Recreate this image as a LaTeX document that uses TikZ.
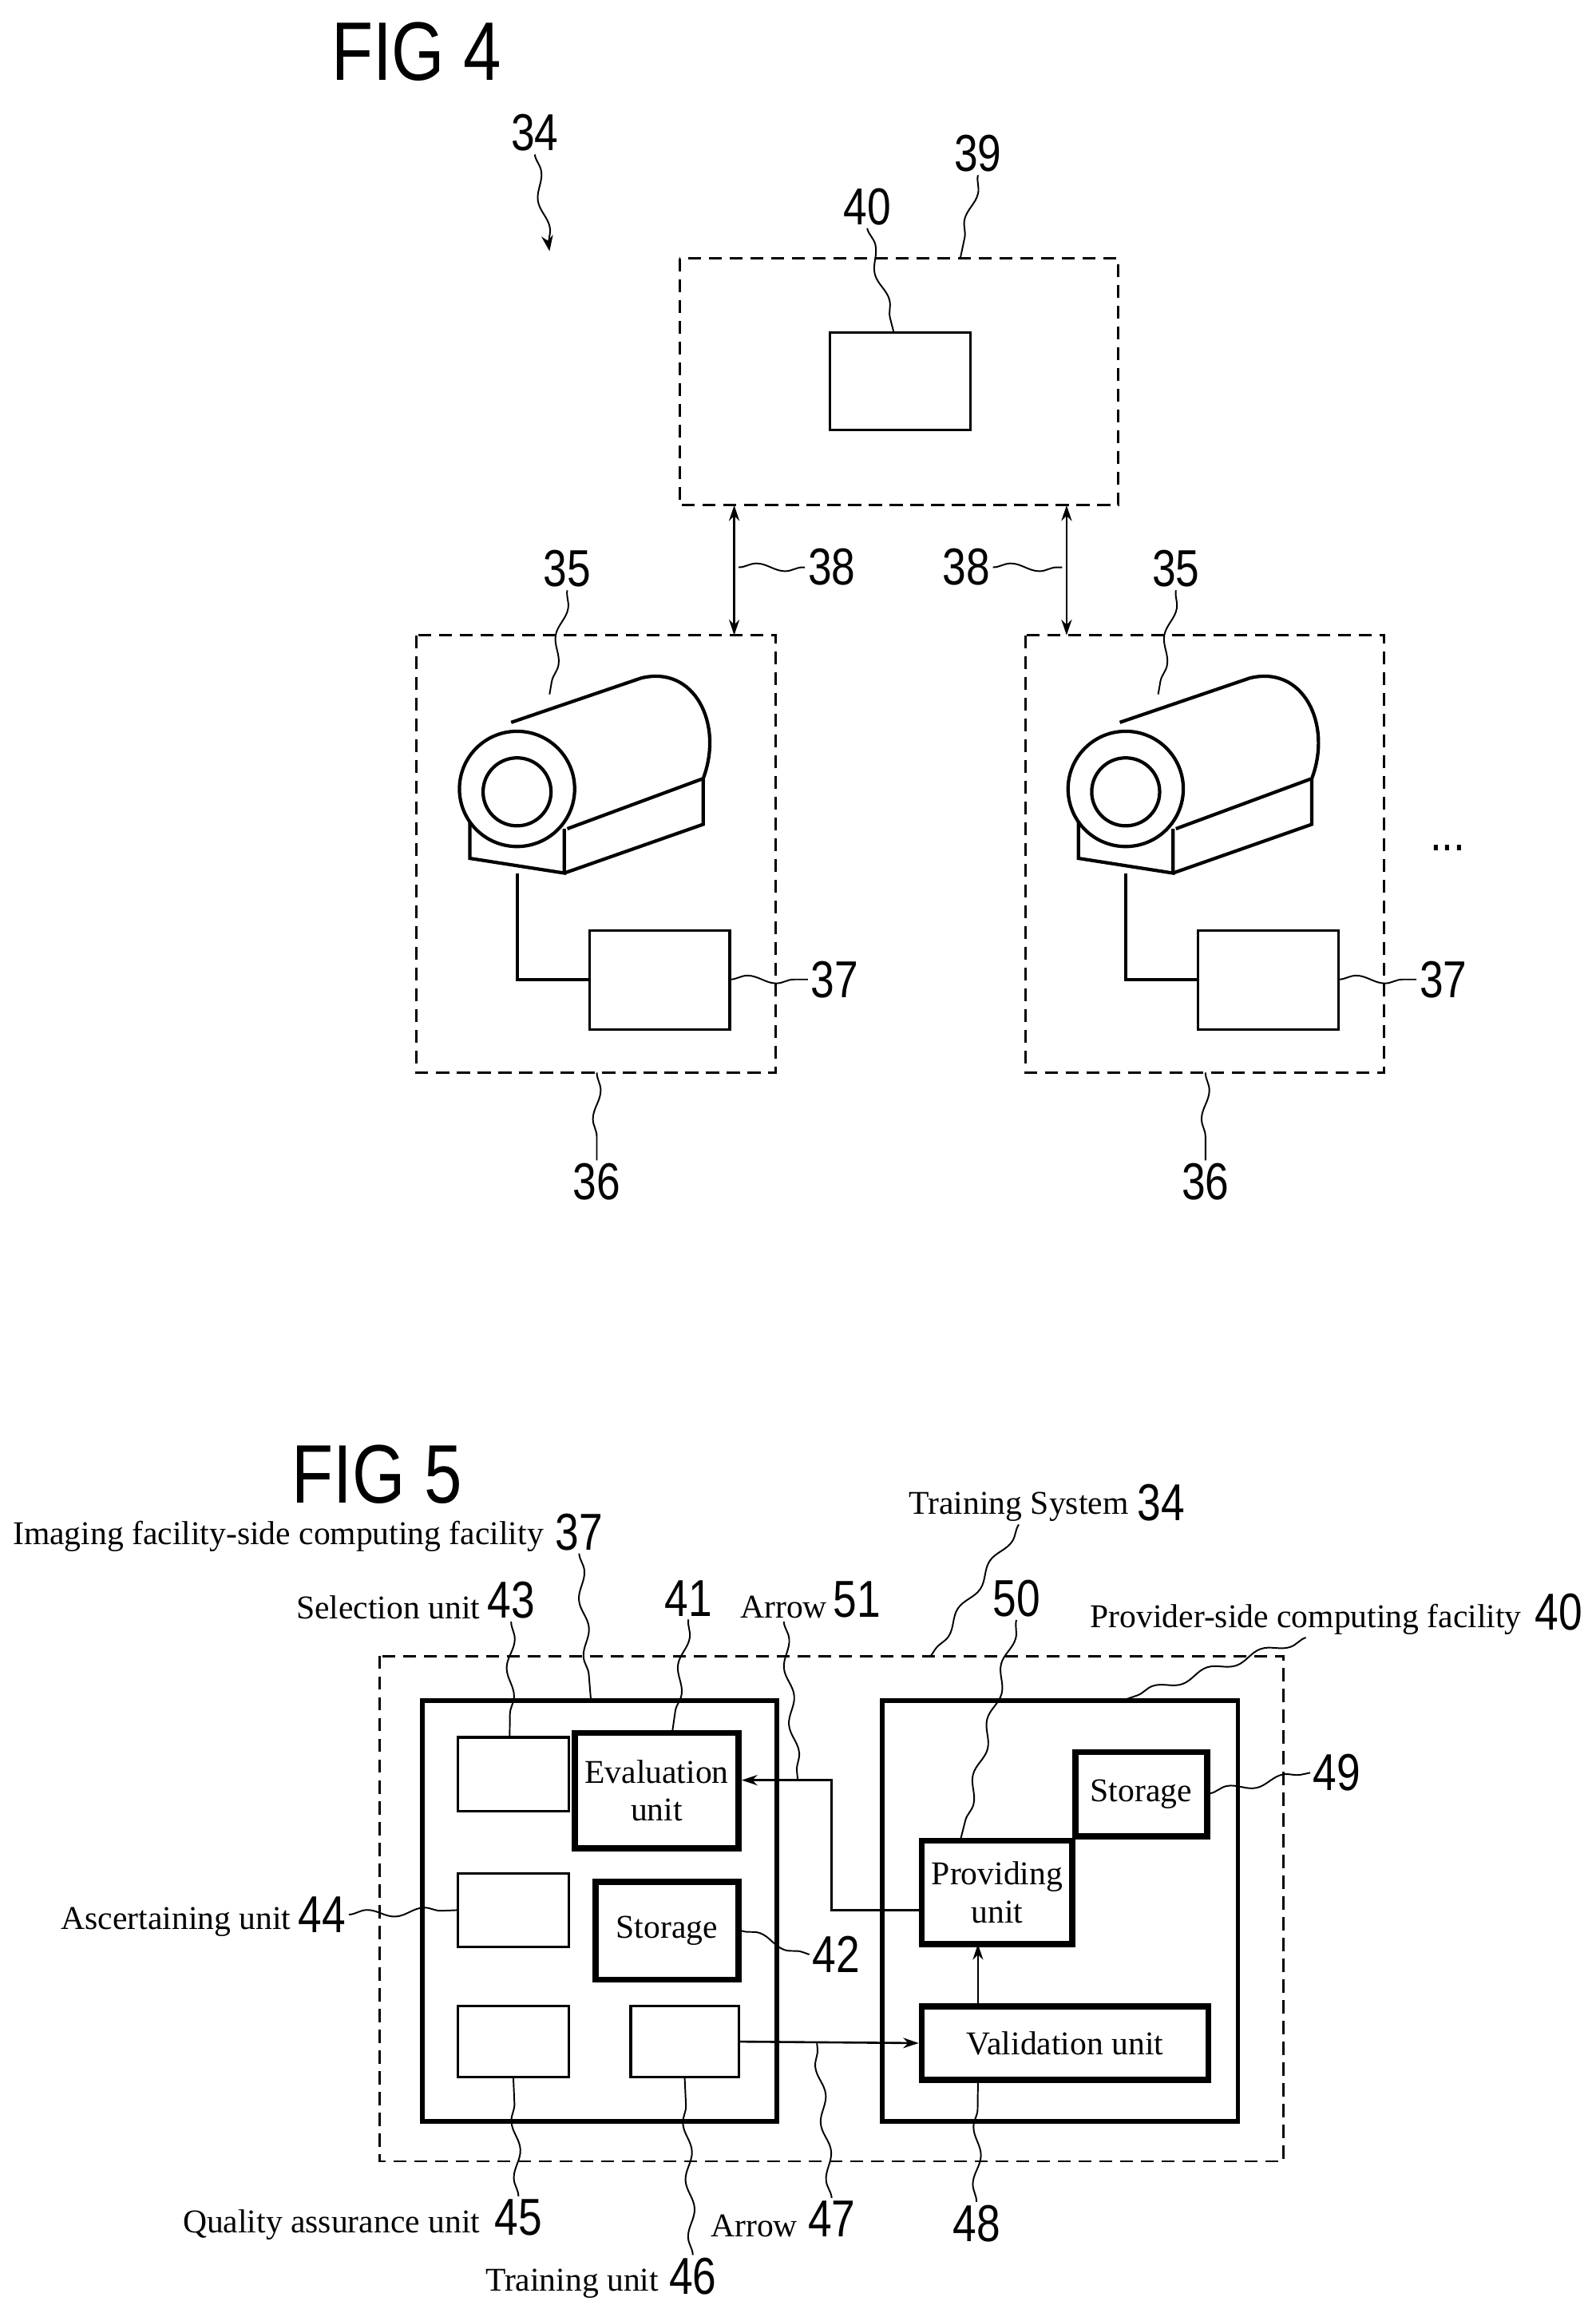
\documentclass[tikz,border=0pt]{standalone}
\usepackage{fontspec}
\setmainfont{Liberation Serif}
\setsansfont{Liberation Sans}
\newfontfamily\numfont[FakeStretch=0.82]{Liberation Sans}
\usetikzlibrary{decorations.pathmorphing,arrows.meta}
\tikzset{
  dbox/.style={draw,dash pattern=on 5pt off 3pt,line width=0.9pt},
  sbox/.style={draw,line width=1pt},
  kbox/.style={draw,line width=2.4pt},
  fbox/.style={draw,line width=1.8pt},
  lead/.style={draw,line width=0.6pt,decorate,decoration={snake,amplitude=1.5pt,segment length=22pt}},
  num/.style={font=\numfont\fontsize{20}{22}\selectfont,inner sep=1pt},
  txt/.style={font=\fontsize{12.8}{14.5}\selectfont,inner sep=1pt},
  figt/.style={font=\numfont\fontsize{32}{34}\selectfont},
  conn/.style={line width=0.8pt,-{Stealth[length=6pt,width=4pt]}}
}
\newcommand{\camera}{%
  \draw[line width=1.3pt,fill=white] (346,489) -- (434,459)
    .. controls (470,450) and (490,490) .. (476,527) -- (384,561);
  \draw[line width=1.3pt] (318,555) -- (318,581) -- (382,591) -- (382,561);
  \draw[line width=1.3pt] (382,591) -- (476,558) -- (476,527);
  \draw[line width=1.3pt,fill=white] (350,534) circle (39);
  \draw[line width=1.3pt] (350,536) circle (23);
}
\begin{document}
\begin{tikzpicture}[x=0.02cm,y=-0.02cm]
\useasboundingbox (0,0) rectangle (1080,1563);
% FIG 4
\node[figt] (fig4) at (282,35) {FIG 4};
\node[num] (n34) at (362,90) {34};
\draw[lead,-{Stealth[length=6pt]}] (n34.south) -- (372,170);
\draw[dbox] (460,175) rectangle (757,342);
\node[sbox,minimum width=95*0.02cm,minimum height=66*0.02cm] (b40) at (609.5,258) {};
\node[num] (n39) at (662,104) {39};
\draw[lead] (n39.south) -- (650,175);
\node[num] (n40) at (587,140) {40};
\draw[lead] (n40.south) -- (605,225);
% imaging facilities
\foreach \dx/\nm in {0/l,412/r}{
  \begin{scope}[xshift=\dx*0.02cm]
    \draw[dbox] (282,430) rectangle (525,726);
    \camera
    \draw[line width=1.2pt] (350,591) -- (350,663) -- (399,663);
    \draw[sbox] (399,630) rectangle (494,697);
    \node[num] (n37\nm) at (565,663) {37};
    \draw[lead] (494,663) -- (n37\nm.west);
    \node[num] (n36\nm) at (404,800) {36};
    \draw[lead] (404,726) -- (n36\nm.north);
    \node[num] (n35\nm) at (384,385) {35};
    \draw[lead] (n35\nm.south) -- (372,470);
  \end{scope}
}
\draw[line width=0.8pt,{Stealth[length=6pt,width=4pt]}-{Stealth[length=6pt,width=4pt]}] (497,342) -- (497,430);
\draw[line width=0.8pt,{Stealth[length=6pt,width=4pt]}-{Stealth[length=6pt,width=4pt]}] (722,342) -- (722,430);
\node[num] (n38l) at (563,384) {38};
\draw[lead] (500,384) -- (n38l.west);
\node[num] (n38r) at (654,384) {38};
\draw[lead] (n38r.east) -- (719,384);
\node[num] (dots) at (980,574) {...};
% FIG 5
\node[figt] (fig5) at (255,998) {FIG 5};
\draw[dbox] (257,1121) rectangle (869,1463);
\draw[fbox] (286,1151) rectangle (526,1436);
\draw[fbox] (597,1151) rectangle (838,1436);
\node[sbox,minimum width=75*0.02cm,minimum height=50*0.02cm] (b43) at (347.5,1201) {};
\node[kbox,txt,align=center,minimum width=111*0.02cm,minimum height=78*0.02cm] (b41) at (444.5,1212) {Evaluation\\unit};
\node[sbox,minimum width=75*0.02cm,minimum height=50*0.02cm] (b44) at (347.5,1293) {};
\node[kbox,txt,minimum width=97*0.02cm,minimum height=66*0.02cm] (b42) at (451.5,1307) {Storage};
\node[sbox,minimum width=75*0.02cm,minimum height=48*0.02cm] (b45) at (347.5,1382) {};
\node[sbox,minimum width=73*0.02cm,minimum height=48*0.02cm] (b46) at (463.5,1382) {};
\node[kbox,txt,minimum width=89*0.02cm,minimum height=57*0.02cm] (b49) at (772.5,1214.5) {Storage};
\node[kbox,txt,align=center,minimum width=102*0.02cm,minimum height=70*0.02cm] (b50) at (675,1281) {Providing\\unit};
\node[kbox,txt,minimum width=194*0.02cm,minimum height=50*0.02cm] (b48) at (721,1383) {Validation unit};
\draw[conn] (b50.west |- 0,1293) -- (563,1293) -- (563,1205) -- (b41.east |- 0,1205);
\draw[conn] (b46.east) -- (b48.west);
\draw[conn] (662,1358) -- (662,1316);
% labels
\node[txt,anchor=east] (t37) at (370,1040) {Imaging facility-side computing facility};
\node[num] (n37b) at (392,1037) {37};
\draw[lead] (n37b.south) -- (400,1151);
\node[txt,anchor=east] (t34) at (766,1020) {Training System};
\node[num] (n34b) at (786,1017) {34};
\draw[lead] (t34.south) -- (630,1121);
\node[txt,anchor=east] (t43) at (327,1088) {Selection unit};
\node[num] (n43) at (346,1083) {43};
\draw[lead] (n43.south) -- (345,1176);
\node[num] (n41) at (466,1082) {41};
\draw[lead] (n41.south) -- (455,1173);
\node[txt,anchor=east] (t51) at (562,1088) {Arrow};
\node[num] (n51) at (580,1083) {51};
\draw[lead] (t51.south) -- (540,1205);
\node[num] (n50) at (688,1082) {50};
\draw[lead] (n50.south) -- (650,1246);
\node[txt,anchor=east] (t40) at (1032,1096) {Provider-side computing facility};
\node[num] (n40b) at (1055,1091) {40};
\draw[lead] (t40.south) -- (760,1151);
\node[num] (n49) at (905,1200) {49};
\draw[lead] (b49.east |- 0,1214) -- (n49.west);
\node[txt,anchor=east] (t44) at (199,1301) {Ascertaining unit};
\node[num] (n44) at (218,1296) {44};
\draw[lead] (n44.east) -- (b44.west);
\node[num] (n42) at (566,1323) {42};
\draw[lead] (b42.east) -- (n42.west);
\node[txt,anchor=east] (t45) at (327,1506) {Quality assurance unit};
\node[num] (n45) at (351,1501) {45};
\draw[lead] (n45.north) -- (b45.south);
\node[txt,anchor=east] (t47) at (542,1507) {Arrow};
\node[num] (n47) at (563,1502) {47};
\draw[lead] (n47.north) -- (553,1383);
\node[num] (n48) at (661,1505) {48};
\draw[lead] (n48.north) -- (b48.south -| 662,0);
\node[txt,anchor=east] (t46) at (448,1546) {Training unit};
\node[num] (n46) at (469,1541) {46};
\draw[lead] (n46.north) -- (b46.south);
\end{tikzpicture}
\end{document}
